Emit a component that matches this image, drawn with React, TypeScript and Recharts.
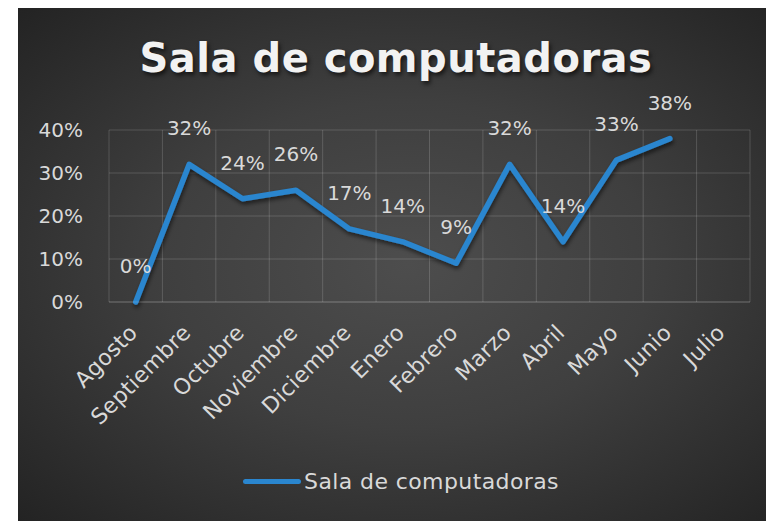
import { LineChart, Line, XAxis, YAxis, CartesianGrid, LabelList, Legend } from "recharts";

const months = [
  "Agosto",
  "Septiembre",
  "Octubre",
  "Noviembre",
  "Diciembre",
  "Enero",
  "Febrero",
  "Marzo",
  "Abril",
  "Mayo",
  "Junio",
  "Julio",
];
const usage = [0, 32, 24, 26, 17, 14, 9, 32, 14, 33, 38, null];
const yTicks = [0, 10, 20, 30, 40];

const SERIES = "Sala de computadoras";
const FONT = "'DejaVu Sans', sans-serif";
const TEXT = "#d9d9d9";
const BLUE = "#2a86cf";
const GRID = "rgba(255,255,255,0.16)";

const data = months.map((m, i) => ({ month: m, value: usage[i] }));

function MonthTick({ x, y, payload }: any) {
  const ax = x + 3;
  const ay = y + 24;
  return (
    <text
      x={ax}
      y={ay}
      textAnchor="end"
      fill={TEXT}
      fontSize={22}
      letterSpacing={0.3}
      fontFamily={FONT}
      transform={`rotate(-45 ${ax} ${ay})`}
    >
      {payload.value}
    </text>
  );
}

function ValueLabel({ x, y, value }: any) {
  if (value === null || value === undefined) return null;
  return (
    <text x={x} y={y - 29} textAnchor="middle" fill={TEXT} fontSize={20} fontFamily={FONT}>
      {`${value}%`}
    </text>
  );
}

function LegendBox() {
  return (
    <div
      style={{
        display: "flex",
        alignItems: "center",
        justifyContent: "center",
        paddingLeft: 34,
        height: 40,
      }}
    >
      <span
        style={{
          display: "inline-block",
          width: 58,
          height: 5,
          borderRadius: 3,
          background: BLUE,
          marginRight: 3,
        }}
      />
      <span style={{ color: TEXT, fontSize: 22, fontFamily: FONT, letterSpacing: 0.4 }}>{SERIES}</span>
    </div>
  );
}

export default function App() {
  return (
    <div
      style={{
        position: "absolute",
        left: 18,
        top: 8,
        width: 748,
        height: 513,
        overflow: "hidden",
        background: "radial-gradient(ellipse at 52% 50%, #4d4d4d 0%, #3f3f3f 45%, #232323 100%)",
      }}
    >
      <div
        style={{
          position: "absolute",
          left: 0,
          right: 0,
          top: 27,
          textAlign: "center",
          paddingLeft: 8,
          color: "#f2f2f2",
          fontFamily: FONT,
          fontWeight: "bold",
          fontSize: 40,
          letterSpacing: 0.5,
          textShadow: "2px 3px 4px rgba(0,0,0,0.6)",
        }}
      >
        {SERIES}
      </div>
      <LineChart
        width={748}
        height={513}
        data={data}
        margin={{ top: 122, right: 16, left: 0, bottom: 20 }}
      >
        <defs>
          <filter id="lineShadow" x="-10%" y="-10%" width="120%" height="130%">
            <feDropShadow dx="1" dy="3" stdDeviation="2" floodColor="#000" floodOpacity="0.55" />
          </filter>
        </defs>
        <CartesianGrid
          stroke={GRID}
          verticalCoordinatesGenerator={({ offset }: any) =>
            months.map((_, i) => offset.left + (i * offset.width) / months.length).concat(offset.left + offset.width)
          }
        />
        <XAxis
          dataKey="month"
          scale="band"
          interval={0}
          tickLine={false}
          axisLine={{ stroke: GRID }}
          height={159}
          tick={<MonthTick />}
        />
        <YAxis
          domain={[0, 40]}
          ticks={yTicks}
          width={91}
          tickLine={false}
          axisLine={false}
          tickSize={0}
          tickMargin={26}
          tickFormatter={(v: number) => `${v}%`}
          tick={{ fill: TEXT, fontSize: 20, fontFamily: FONT }}
        />
        <Legend verticalAlign="bottom" height={40} content={<LegendBox />} />
        <Line
          type="linear"
          dataKey="value"
          name={SERIES}
          stroke={BLUE}
          strokeWidth={5.5}
          strokeLinecap="round"
          strokeLinejoin="round"
          dot={false}
          activeDot={false}
          filter="url(#lineShadow)"
          isAnimationActive={false}
        >
          <LabelList dataKey="value" content={<ValueLabel />} />
        </Line>
      </LineChart>
    </div>
  );
}
